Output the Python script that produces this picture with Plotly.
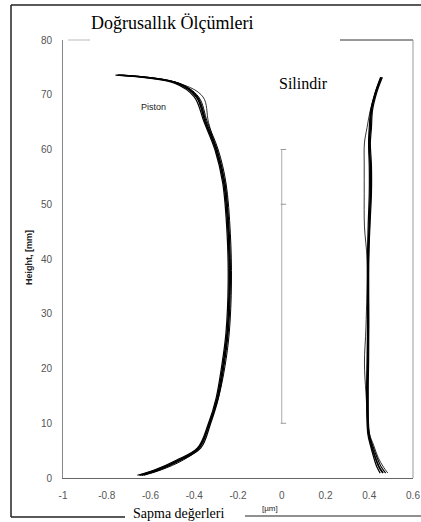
import plotly.graph_objects as go

# ---------------- data ----------------
x_ticks = [-1, -0.8, -0.6, -0.4, -0.2, 0, 0.2, 0.4, 0.6]
x_tick_labels = ["-1", "-0.8", "-0.6", "-0.4", "-0.2", "0", "0.2", "0.4", "0.6"]
y_ticks = [0, 10, 20, 30, 40, 50, 60, 70, 80]
y_tick_labels = ["0", "10", "20", "30", "40", "50", "60", "70", "80"]

# Piston measurements (height in mm, deviation in µm)
piston_height = [0.5, 1.5, 3.3, 5.5, 10, 14.6, 20.3, 26.5, 35.6, 44.7, 53.9, 59.9, 65.0, 69.6, 72.1, 73.6]
piston_1 = [-0.65, -0.57, -0.47, -0.38, -0.33, -0.295, -0.27, -0.25, -0.24, -0.245, -0.265, -0.30, -0.35, -0.39, -0.48, -0.75]
piston_2 = [-0.64, -0.56, -0.46, -0.37, -0.325, -0.29, -0.265, -0.245, -0.235, -0.24, -0.26, -0.295, -0.345, -0.385, -0.47, -0.74]
piston_3 = [-0.66, -0.58, -0.48, -0.385, -0.335, -0.30, -0.275, -0.255, -0.245, -0.25, -0.27, -0.305, -0.355, -0.40, -0.49, -0.76]
piston_4 = [-0.63, -0.55, -0.45, -0.375, -0.33, -0.29, -0.26, -0.24, -0.23, -0.235, -0.255, -0.29, -0.34, -0.38, -0.47, -0.73]
piston_5 = [-0.65, -0.565, -0.465, -0.38, -0.33, -0.295, -0.268, -0.248, -0.238, -0.242, -0.26, -0.30, -0.335, -0.36, -0.47, -0.75]

# Cylinder measurements
cyl_height = [0.9, 2.0, 3.8, 6.0, 8.2, 15.5, 21, 27.6, 39.8, 46, 52, 57, 61.2, 64, 67.2, 70.5, 73.2]
cyl_1 = [0.463, 0.445, 0.427, 0.41, 0.397, 0.392, 0.393, 0.395, 0.395, 0.40, 0.405, 0.405, 0.40, 0.405, 0.41, 0.43, 0.455]
cyl_2 = [0.475, 0.455, 0.435, 0.415, 0.40, 0.395, 0.397, 0.398, 0.398, 0.403, 0.41, 0.41, 0.405, 0.41, 0.415, 0.435, 0.46]
cyl_3 = [0.45, 0.435, 0.42, 0.405, 0.393, 0.388, 0.39, 0.392, 0.392, 0.395, 0.40, 0.40, 0.397, 0.40, 0.407, 0.428, 0.452]
cyl_4 = [0.485, 0.465, 0.44, 0.42, 0.40, 0.385, 0.378, 0.385, 0.39, 0.378, 0.377, 0.377, 0.378, 0.39, 0.405, 0.43, 0.455]

# ---------------- figure ----------------
W, H = 421, 522
L, R, T, B = 63, 8, 40, 44
PW, PH = W - L - R, H - T - B
SERIF = "Liberation Serif, DejaVu Serif, Times New Roman, serif"
SANS = "Liberation Sans, Arial, sans-serif"


def px(xp):
    return (xp - L) / PW


def py(yp):
    return (H - B - yp) / PH


fig = go.Figure()

piston_series = [(piston_1, 1.6), (piston_2, 1.3), (piston_3, 1.2), (piston_4, 1.0), (piston_5, 0.8)]
for vals, w in piston_series:
    fig.add_trace(go.Scatter(x=vals, y=piston_height, mode="lines", line=dict(color="black", width=w, shape="spline"),
                             showlegend=False, hoverinfo="skip"))

cyl_series = [(cyl_1, 1.8), (cyl_2, 1.2), (cyl_3, 1.2), (cyl_4, 0.8)]
for vals, w in cyl_series:
    fig.add_trace(go.Scatter(x=vals, y=cyl_height, mode="lines", line=dict(color="black", width=w, shape="spline"),
                             showlegend=False, hoverinfo="skip"))

shapes = []
# vertical reference line at x = 0
shapes.append(dict(type="line", xref="x", yref="y", x0=0, x1=0, y0=10, y1=60,
                   line=dict(color="#aaaaaa", width=1)))
for yy in [10, 50, 60]:
    shapes.append(dict(type="line", xref="x", yref="y", x0=-0.005, x1=0.02, y0=yy, y1=yy,
                       line=dict(color="#999999", width=1)))
# plot border (top partial, right)
shapes.append(dict(type="line", xref="paper", yref="paper", x0=px(340), x1=1, y0=1, y1=1,
                   line=dict(color="#333333", width=1)))
shapes.append(dict(type="line", xref="paper", yref="paper", x0=px(68), x1=px(90), y0=1, y1=1,
                   line=dict(color="#bbbbbb", width=1)))
shapes.append(dict(type="line", xref="paper", yref="paper", x0=1, x1=1, y0=0, y1=1,
                   line=dict(color="#999999", width=1)))
# outer frame
shapes.append(dict(type="line", xref="paper", yref="paper", x0=px(11), x1=px(421), y0=py(5), y1=py(5),
                   line=dict(color="#222222", width=1.5)))
shapes.append(dict(type="line", xref="paper", yref="paper", x0=px(11), x1=px(11), y0=py(5), y1=py(517),
                   line=dict(color="#222222", width=1.5)))
shapes.append(dict(type="line", xref="paper", yref="paper", x0=px(11), x1=px(125), y0=py(517), y1=py(517),
                   line=dict(color="#222222", width=1.5)))
shapes.append(dict(type="line", xref="paper", yref="paper", x0=px(245), x1=px(421), y0=py(516), y1=py(516),
                   line=dict(color="#222222", width=1.2)))


def ann(text, xp, yp, family, size, color="black", angle=0):
    return dict(text=text, x=px(xp), y=py(yp), xref="paper", yref="paper", showarrow=False,
                xanchor="center", yanchor="middle", textangle=angle,
                font=dict(family=family, size=size, color=color))


annotations = [
    ann("Doğrusallık Ölçümleri", 172, 23, SERIF, 18),
    ann("Silindir", 303, 83, SERIF, 16),
    ann("Piston", 153, 107, SANS, 9, "#222222"),
    ann("<b>Height, [mm]</b>", 29, 258, SANS, 9, "#222222", -90),
    ann("Sapma değerleri", 178, 513, SERIF, 14),
    ann("[µm]", 270, 508, SANS, 8, "#222222"),
]

fig.update_layout(
    width=W, height=H,
    margin=dict(l=L, r=R, t=T, b=B, autoexpand=False),
    paper_bgcolor="white", plot_bgcolor="white",
    shapes=shapes, annotations=annotations,
    showlegend=False,
)
fig.update_xaxes(range=[-1, 0.6], tickvals=x_ticks, ticktext=x_tick_labels, showgrid=False, zeroline=False,
                 showline=True, linecolor="#666666", linewidth=1, ticks="", automargin=False,
                 tickfont=dict(family=SANS, size=10, color="#555555"), ticklabelstandoff=8)
fig.update_yaxes(range=[0, 80], tickvals=y_ticks, ticktext=y_tick_labels, showgrid=False, zeroline=False,
                 showline=True, linecolor="#888888", linewidth=1, ticks="", automargin=False,
                 tickfont=dict(family=SANS, size=10, color="#555555"), ticklabelstandoff=8)

post = ("document.body.style.margin='0';document.body.style.padding='0';"
        "document.body.style.overflow='hidden';"
        "var gd=document.getElementById('{plot_id}');"
        "Plotly.relayout(gd,{width:%d,height:%d});" % (W, H))
fig.write_html("out.html", config={"responsive": False, "displayModeBar": False}, post_script=post)
